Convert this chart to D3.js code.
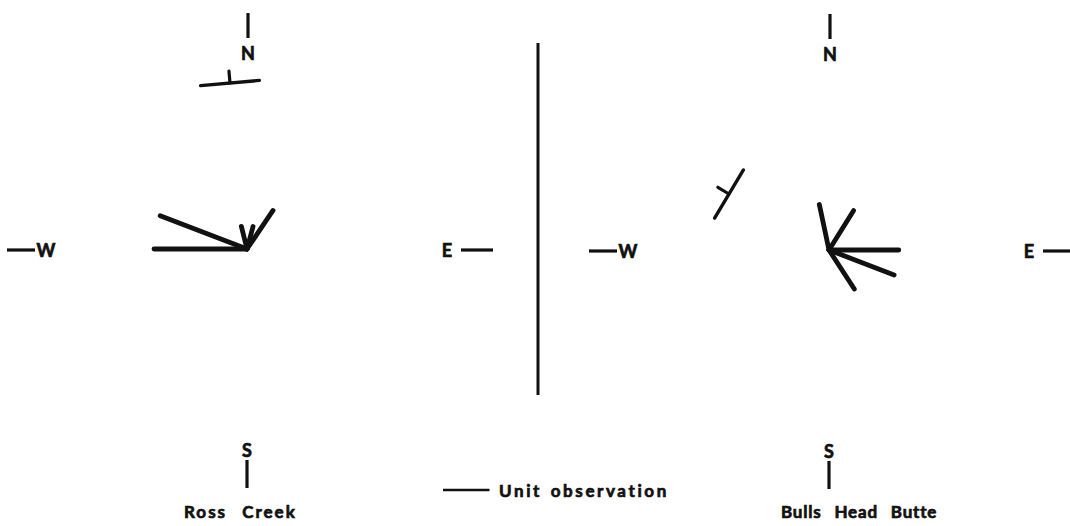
<!DOCTYPE html>
<html>
<head>
<meta charset="utf-8">
<script src="https://cdn.jsdelivr.net/npm/d3@7"></script>
<style>
  html, body { margin: 0; padding: 0; background: #fff; }
  svg { display: block; }
  text { font-family: "Lato", "DejaVu Sans", sans-serif; font-weight: 700; fill: #111;
         stroke: #111; stroke-width: 0.7px; }
</style>
</head>
<body>
<svg id="chart" width="1070" height="526"></svg>
<script>
// Current directions, one ray per direction class: azimuth (degrees from north, clockwise)
// and ray length in unit observations.
const rossAzimuths = [270, 291, 346, 15, 34];
const rossCounts   = [2, 2, 0.5, 0.5, 1];

const bullsAzimuths = [348, 32, 90, 111, 147];
const bullsCounts   = [1, 1, 1.5, 1.5, 1];

// Bedding attitude at each locality: strike azimuth and dip direction.
const rossBedding  = { strike: 85, dip: 355 };
const bullsBedding = { strike: 31, dip: 301 };

const siteNames = ["Ross Creek", "Bulls Head Butte"];
const compassLabels = ["N", "E", "S", "W"];
const legendLabel = "Unit observation";

const svg = d3.select("#chart");
const ink = "#111";

// Length of one unit observation in pixels.
const r = d3.scaleLinear().domain([0, 1]).range([0, 46.5]);
const rad = d3.scaleLinear().domain([0, 360]).range([0, 2 * Math.PI]);

function drawCompass(g) {
  // N
  g.append("line").attr("x1", 1).attr("x2", 1).attr("y1", -236).attr("y2", -211)
    .attr("stroke", ink).attr("stroke-width", 3.2);
  g.append("text").attr("x", 1).attr("y", -189).attr("text-anchor", "middle")
    .attr("font-size", 18).text(compassLabels[0]);
  // S
  g.append("text").attr("x", 0).attr("y", 208).attr("text-anchor", "middle")
    .attr("font-size", 18).text(compassLabels[2]);
  g.append("line").attr("x1", 0).attr("x2", 0).attr("y1", 211).attr("y2", 239)
    .attr("stroke", ink).attr("stroke-width", 3.2);
  // W
  g.append("line").attr("x1", -240).attr("x2", -212).attr("y1", 1).attr("y2", 1)
    .attr("stroke", ink).attr("stroke-width", 3.2);
  g.append("text").attr("x", -201).attr("y", 8).attr("text-anchor", "middle")
    .attr("font-size", 18).text(compassLabels[3]);
  // E
  g.append("text").attr("x", 200).attr("y", 8).attr("text-anchor", "middle")
    .attr("font-size", 18).text(compassLabels[1]);
  g.append("line").attr("x1", 214).attr("x2", 246).attr("y1", 1).attr("y2", 1)
    .attr("stroke", ink).attr("stroke-width", 3.2);
}

function drawRose(g, azimuths, counts) {
  const rays = azimuths.map((a, i) => ({ az: a, n: counts[i] }));
  g.selectAll("line.ray").data(rays).join("line")
    .attr("class", "ray")
    .attr("x1", 0).attr("y1", 0)
    .attr("x2", d => d3.pointRadial(rad(d.az), r(d.n))[0])
    .attr("y2", d => d3.pointRadial(rad(d.az), r(d.n))[1])
    .attr("stroke", ink).attr("stroke-width", 4.8).attr("stroke-linecap", "round");
}

function drawBedding(g, bed, halfLen, tickLen) {
  const a = d3.pointRadial(rad(bed.strike), halfLen);
  const b = d3.pointRadial(rad(bed.strike + 180), halfLen);
  g.append("line").attr("x1", b[0]).attr("y1", b[1]).attr("x2", a[0]).attr("y2", a[1])
    .attr("stroke", ink).attr("stroke-width", 3.4).attr("stroke-linecap", "round");
  const t = d3.pointRadial(rad(bed.dip), tickLen);
  g.append("line").attr("x1", 0).attr("y1", 0).attr("x2", t[0]).attr("y2", t[1])
    .attr("stroke", ink).attr("stroke-width", 3.2).attr("stroke-linecap", "round");
}

// Ross Creek
const left = svg.append("g").attr("transform", "translate(247,249)");
drawCompass(left);
drawRose(left, rossAzimuths, rossCounts);
drawBedding(left.append("g").attr("transform", "translate(-17,-166)"), rossBedding, 29.5, 12);
svg.append("text").attr("x", 184).attr("y", 518).attr("font-size", 17)
  .attr("letter-spacing", 2).attr("word-spacing", 9).text(siteNames[0]);

// Bulls Head Butte
const right = svg.append("g").attr("transform", "translate(829,250)");
drawCompass(right);
drawRose(right, bullsAzimuths, bullsCounts);
drawBedding(right.append("g").attr("transform", "translate(-100,-56)"), bullsBedding, 28, 13);
svg.append("text").attr("x", 781).attr("y", 518).attr("font-size", 17)
  .attr("letter-spacing", 0.8).attr("word-spacing", 8).text(siteNames[1]);

// Divider between the two localities
svg.append("line").attr("x1", 538).attr("x2", 538).attr("y1", 43).attr("y2", 395)
  .attr("stroke", ink).attr("stroke-width", 3);

// Legend: one unit observation
const lg = svg.append("g").attr("transform", "translate(443,490)");
lg.append("line").attr("x1", r(0)).attr("x2", r(1)).attr("y1", 0).attr("y2", 0)
  .attr("stroke", ink).attr("stroke-width", 2.6);
lg.append("text").attr("x", 56).attr("y", 7).attr("font-size", 17)
  .attr("letter-spacing", 2.6).attr("word-spacing", 2).text(legendLabel);
</script>
</body>
</html>
